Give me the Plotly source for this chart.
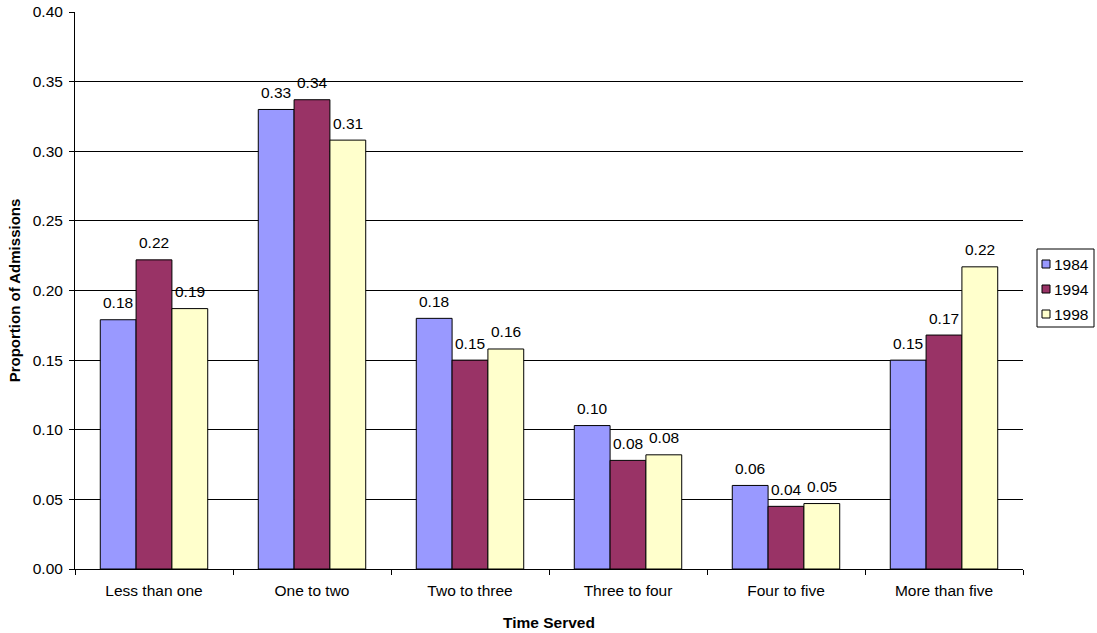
import plotly.graph_objects as go

categories = ["Less than one", "One to two", "Two to three", "Three to four", "Four to five", "More than five"]
years = ["1984", "1994", "1998"]
values_1984 = [0.179, 0.330, 0.180, 0.103, 0.060, 0.150]
values_1994 = [0.222, 0.337, 0.150, 0.078, 0.045, 0.168]
values_1998 = [0.187, 0.308, 0.158, 0.082, 0.047, 0.217]
colors = ["#9999FF", "#993366", "#FFFFCC"]
y_ticks = [0.0, 0.05, 0.10, 0.15, 0.20, 0.25, 0.30, 0.35, 0.40]

W, H = 1097, 633
ML, MR, MT, MB = 75, 74, 12, 64
PW, PH = W - ML - MR, H - MT - MB
FONT = "Liberation Sans, Arial, sans-serif"
BARGAP = 0.32
BAR_PX = PW / len(categories) * (1 - BARGAP) / len(years)


def px_x(px):
    return (px - ML) / PW


def px_y(py):
    return (H - MB - py) / PH


fig = go.Figure()
annotations = []
series = [values_1984, values_1994, values_1998]
for i, (yr, vals) in enumerate(zip(years, series)):
    fig.add_trace(go.Bar(
        x=categories, y=vals, name=yr,
        marker=dict(color=colors[i], line=dict(color="black", width=1)),
        showlegend=False,
    ))
    for cat, v in zip(categories, vals):
        annotations.append(dict(
            x=cat, y=v, xref="x", yref="y", showarrow=False,
            text=f"{v:.2f}", xanchor="center", yanchor="middle",
            xshift=(i - 1) * BAR_PX, yshift=17,
            font=dict(family=FONT, size=15.5, color="black"),
        ))

# legend box (compact spreadsheet-style legend)
shapes = [dict(type="rect", xref="paper", yref="paper",
               x0=px_x(1037), x1=px_x(1094), y0=px_y(327), y1=px_y(249),
               line=dict(color="black", width=1), fillcolor="white", layer="above")]
for i, yr in enumerate(years):
    cy = 264 + 25 * i
    shapes.append(dict(type="rect", xref="paper", yref="paper",
                       x0=px_x(1042), x1=px_x(1050), y0=px_y(cy + 4), y1=px_y(cy - 4),
                       line=dict(color="black", width=1), fillcolor=colors[i], layer="above"))
    annotations.append(dict(xref="paper", yref="paper", x=px_x(1052), y=px_y(cy),
                            xanchor="left", yanchor="middle", showarrow=False,
                            text=yr, font=dict(family=FONT, size=15.5, color="black")))

fig.update_layout(
    width=W, height=H,
    margin=dict(l=ML, r=MR, t=MT, b=MB, autoexpand=False),
    paper_bgcolor="white", plot_bgcolor="white",
    barmode="group", bargap=BARGAP, bargroupgap=0,
    font=dict(family=FONT, size=15.5, color="black"),
    showlegend=False,
    shapes=shapes, annotations=annotations,
    xaxis=dict(
        type="category", tickson="boundaries", ticks="outside", ticklen=5,
        tickcolor="black", showline=True, linecolor="black", linewidth=1,
        showgrid=False, automargin=False, ticklabelstandoff=7,
        title=dict(text="<b>Time Served</b>", font=dict(size=15.5), standoff=19),
        tickfont=dict(size=15.5),
    ),
    yaxis=dict(
        range=[0, 0.40], tickvals=y_ticks, tickformat=".2f",
        ticks="outside", ticklen=5, tickcolor="black",
        showline=True, linecolor="black", linewidth=1,
        showgrid=True, gridcolor="black", gridwidth=1,
        zeroline=False, automargin=False, ticklabelstandoff=3,
        title=dict(text="<b>Proportion of Admissions</b>", font=dict(size=15), standoff=8),
        tickfont=dict(size=15.5),
    ),
)

fig.write_html("out.html")
